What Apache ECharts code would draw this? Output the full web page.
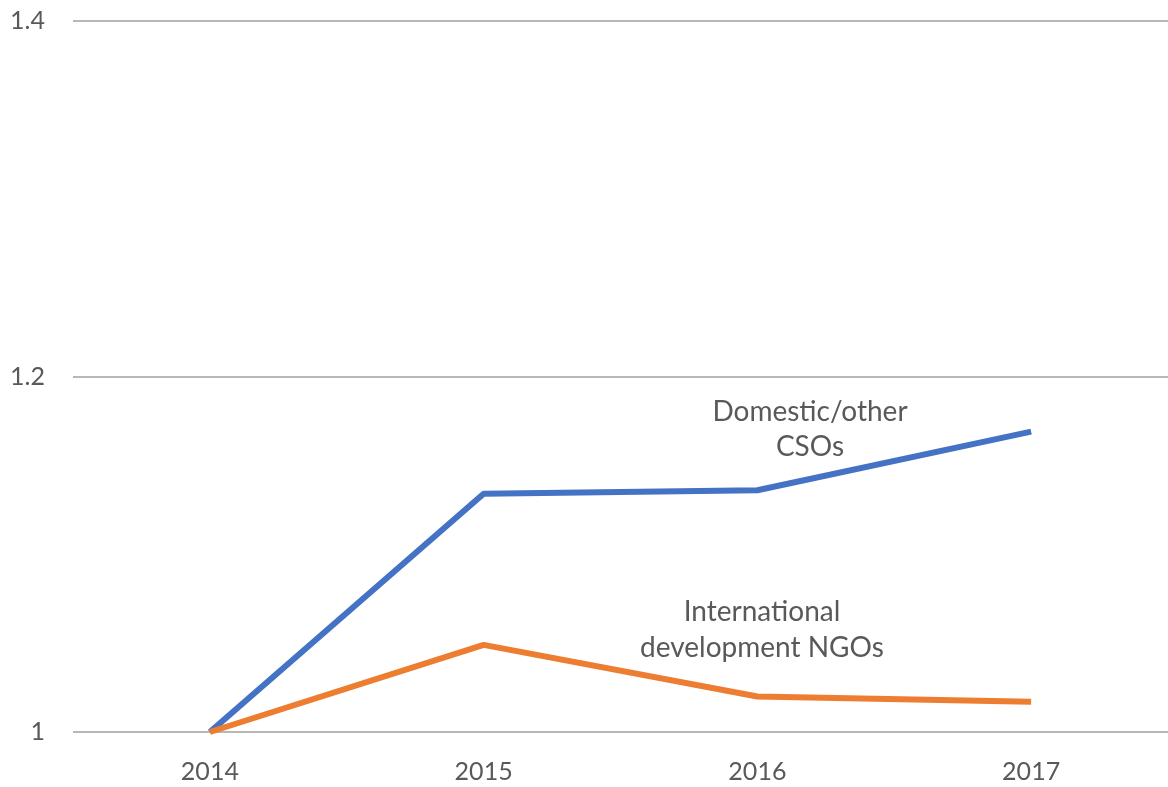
<!DOCTYPE html>
<html>
<head>
<meta charset="utf-8">
<script src="https://cdn.jsdelivr.net/npm/echarts@6/dist/echarts.min.js"></script>
<style>
  html, body { margin: 0; padding: 0; background: #fff; }
  #chart { width: 1168px; height: 787px; }
</style>
</head>
<body>
<div id="chart"></div>
<script>
// 年份与两条指数线（2014 = 1）
var years = ['2014', '2015', '2016', '2017'];
var domesticCSOs = [1.0, 1.134, 1.136, 1.169];
var intlNGOs = [1.0, 1.049, 1.020, 1.017];

var chart = echarts.init(document.getElementById('chart'));
var font = 'Lato, "Open Sans", sans-serif';

chart.setOption({
  backgroundColor: '#fff',
  animation: false,
  grid: { left: 73, right: -5, top: 21, bottom: 55 },
  xAxis: {
    type: 'category',
    data: years,
    axisLine: { show: false },
    axisTick: { show: false },
    axisLabel: { color: '#595959', fontSize: 25, fontFamily: font, margin: 27 }
  },
  yAxis: {
    type: 'value',
    min: 1,
    max: 1.4,
    interval: 0.2,
    axisLine: { show: false },
    axisTick: { show: false },
    axisLabel: {
      color: '#595959', fontSize: 25, fontFamily: font, margin: 28,
      formatter: function (v) { return v === 1 ? '1' : v.toFixed(1); }
    },
    splitLine: { lineStyle: { color: '#b8b8b8', width: 2 } }
  },
  series: [
    {
      name: 'Domestic/other CSOs',
      type: 'line',
      data: domesticCSOs,
      symbol: 'none',
      lineStyle: { color: '#4472C4', width: 6 },
      z: 3
    },
    {
      name: 'International development NGOs',
      type: 'line',
      data: intlNGOs,
      symbol: 'none',
      lineStyle: { color: '#ED7D31', width: 6 },
      z: 4
    }
  ],
  graphic: [
    {
      type: 'text', x: 810, y: 394,
      style: {
        text: 'Domestic/other\nCSOs', fill: '#595959', font: '28px ' + font,
        align: 'center', verticalAlign: 'top', lineHeight: 35
      }
    },
    {
      type: 'text', x: 762, y: 594,
      style: {
        text: 'International\ndevelopment NGOs', fill: '#595959', font: '28px ' + font,
        align: 'center', verticalAlign: 'top', lineHeight: 36
      }
    }
  ]
});
</script>
</body>
</html>
